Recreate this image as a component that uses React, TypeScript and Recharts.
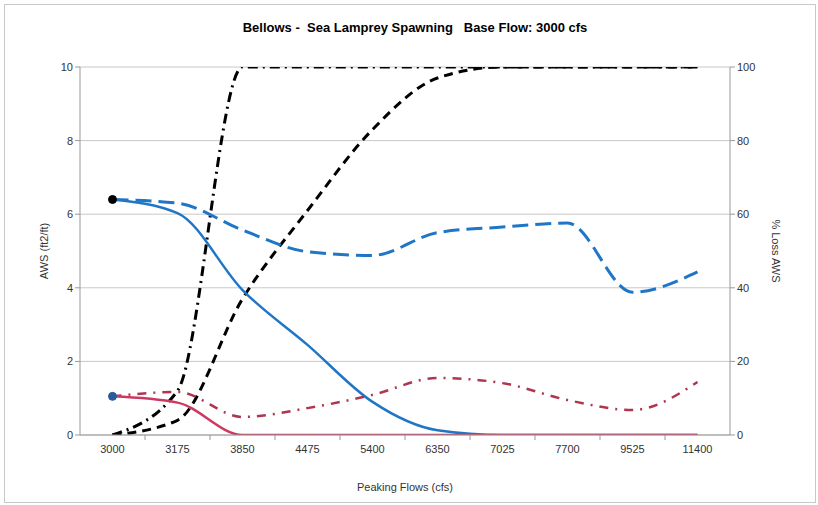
import { LineChart, Line, XAxis, YAxis, CartesianGrid, Label } from "recharts"

const flows = ["3000", "3175", "3850", "4475", "5400", "6350", "7025", "7700", "9525", "11400"]

// AWS (ft2/ft), left axis
const awsHigh = [6.4, 6.03, 3.94, 2.45, 0.9, 0.13, 0, 0, 0, 0]
const awsHighAlt = [6.4, 6.3, 5.57, 4.98, 4.88, 5.5, 5.65, 5.76, 3.88, 4.43]
const awsLow = [1.05, 0.88, 0, 0, 0, 0, 0, 0, 0, 0]
const awsLowAlt = [1.05, 1.17, 0.49, 0.73, 1.09, 1.55, 1.41, 0.95, 0.68, 1.44]
const baseHigh = [6.4, null, null, null, null, null, null, null, null, null]
const baseLow = [1.05, null, null, null, null, null, null, null, null, null]

// % Loss AWS, right axis
const lossA = [0, 12, 100, 100, 100, 100, 100, 100, 100, 100]
const lossB = [0, 4, 37, 61, 83, 97, 100, 100, 100, 100]

const leftTicks = [0, 2, 4, 6, 8, 10]
const rightTicks = [0, 20, 40, 60, 80, 100]

const data = flows.map((f, i) => ({
  flow: f,
  awsHigh: awsHigh[i],
  awsHighAlt: awsHighAlt[i],
  awsLow: awsLow[i],
  awsLowAlt: awsLowAlt[i],
  baseHigh: baseHigh[i],
  baseLow: baseLow[i],
  lossA: lossA[i],
  lossB: lossB[i],
}))

const blue = "#1f76c6"
const red = "#cc3a62"
const darkRed = "#b0354f"
const font = "'Liberation Sans', Arial, sans-serif"
const band = 65

function FlowTick(props: any) {
  const { x, y, payload, index } = props
  const axisY = y - 8
  return (
    <g>
      {index > 0 && <line x1={x - band / 2} x2={x - band / 2} y1={axisY} y2={axisY + 5} stroke="#999" />}
      <text x={x} y={y + 10} textAnchor="middle" fontSize={11} fill="#333" fontFamily={font}>
        {payload.value}
      </text>
    </g>
  )
}

export default function App() {
  return (
    <div style={{ width: 818, height: 505, background: "#fff", fontFamily: font, position: "relative" }}>
      <style>{`body{margin:0}`}</style>
      <div
        style={{
          position: "absolute",
          left: 4,
          top: 4,
          width: 812,
          height: 499,
          border: "1px solid #c8c8c8",
          boxSizing: "border-box",
        }}
      />
      <div
        style={{
          position: "absolute",
          top: 20,
          width: "100%",
          textAlign: "center",
          fontSize: 13,
          fontWeight: "bold",
          whiteSpace: "pre",
          color: "#000",
          paddingLeft: 12,
          boxSizing: "border-box",
        }}
      >
        {"Bellows -  Sea Lamprey Spawning   Base Flow: 3000 cfs"}
      </div>
      <LineChart
        width={818}
        height={505}
        data={data}
        margin={{ top: 67, right: 28, bottom: 40, left: 20 }}
        style={{ position: "absolute", left: 0, top: 0 }}
      >
        <CartesianGrid vertical={false} stroke="#c8c8c8" yAxisId="left" />
        <XAxis
          dataKey="flow"
          height={30}
          tick={<FlowTick />}
          tickLine={false}
          stroke="#999"
          interval={0}
          padding={{ left: band / 2, right: band / 2 }}
        >
          <Label value="Peaking Flows (cfs)" position="insideBottom" offset={-26} style={{ fontSize: 11, fill: "#333", fontFamily: font }} />
        </XAxis>
        <YAxis
          yAxisId="left"
          domain={[0, 10]}
          ticks={leftTicks}
          width={60}
          allowDataOverflow
          stroke="#999"
          tickSize={5}
          tick={{ fontSize: 11, fill: "#333", fontFamily: font }}
        >
          <Label value="AWS (ft2/ft)" angle={-90} position="insideLeft" offset={24} style={{ fontSize: 11, fill: "#333", fontFamily: font, textAnchor: "middle" }} />
        </YAxis>
        <YAxis
          yAxisId="right"
          orientation="right"
          domain={[0, 100]}
          ticks={rightTicks}
          width={60}
          allowDataOverflow
          stroke="#999"
          tickSize={5}
          tick={{ fontSize: 11, fill: "#333", fontFamily: font }}
        >
          <Label value="% Loss AWS" angle={90} position="insideRight" offset={14} style={{ fontSize: 11, fill: "#333", fontFamily: font, textAnchor: "middle" }} />
        </YAxis>
        <Line yAxisId="right" type="monotone" dataKey="lossA" stroke="#000" strokeWidth={3} strokeDasharray="10 5 2 5" dot={false} isAnimationActive={false} />
        <Line yAxisId="right" type="monotone" dataKey="lossB" stroke="#000" strokeWidth={3} strokeDasharray="9 6" dot={false} isAnimationActive={false} />
        <Line yAxisId="left" type="monotone" dataKey="awsHighAlt" stroke={blue} strokeWidth={3} strokeDasharray="16 7" dot={false} isAnimationActive={false} />
        <Line yAxisId="left" type="monotone" dataKey="awsHigh" stroke={blue} strokeWidth={2.5} dot={false} isAnimationActive={false} />
        <Line yAxisId="left" type="monotone" dataKey="awsLowAlt" stroke={darkRed} strokeWidth={2.5} strokeDasharray="9 7 2 7" dot={false} isAnimationActive={false} />
        <Line yAxisId="left" type="monotone" dataKey="awsLow" stroke={red} strokeWidth={2.5} dot={false} isAnimationActive={false} />
        <Line yAxisId="left" dataKey="baseHigh" stroke="none" dot={{ r: 4, fill: "#000", stroke: "#000" }} isAnimationActive={false} />
        <Line yAxisId="left" dataKey="baseLow" stroke="none" dot={{ r: 4, fill: "#2a5a9a", stroke: "#2a5a9a" }} isAnimationActive={false} />
      </LineChart>
    </div>
  )
}
